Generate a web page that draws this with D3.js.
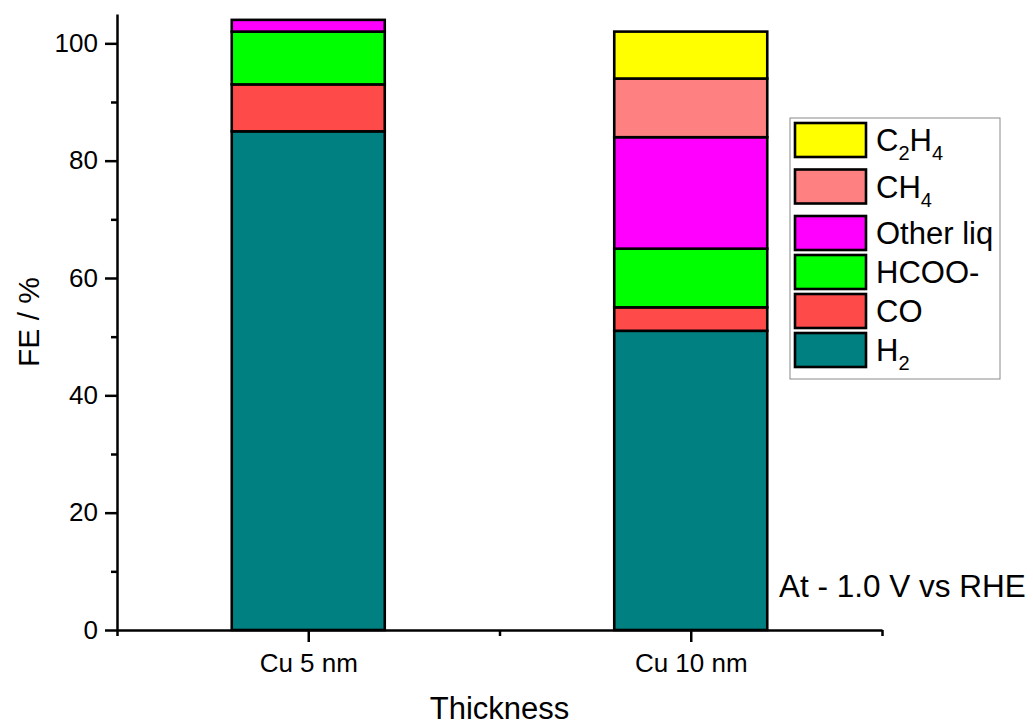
<!DOCTYPE html>
<html>
<head>
<meta charset="utf-8">
<script src="https://cdn.jsdelivr.net/npm/d3@7"></script>
<style>
  html, body { margin: 0; padding: 0; background: #ffffff; }
  svg { display: block; font-family: "Liberation Sans", Arial, sans-serif; }
</style>
</head>
<body>
<svg id="chart" width="1033" height="726"></svg>
<script>
// ---------------- data ----------------
const categories = ["Cu 5 nm", "Cu 10 nm"];
const seriesNames = ["H2", "CO", "HCOO-", "Other liq", "CH4", "C2H4"];
const H2 = [85, 51];
const CO = [8, 4];
const HCOO = [9, 10];
const OtherLiq = [2, 19];
const CH4 = [0, 10];
const C2H4 = [0, 8];
const seriesColors = ["#008080", "#FF4A4A", "#00FF00", "#FF00FF", "#FF8080", "#FFFF00"];
const yTicks = [0, 20, 40, 60, 80, 100];
const yMinorTicks = [10, 30, 50, 70, 90];
const note = "At - 1.0 V vs RHE";

// legend label parts: [text, isSubscript]
const legendLabels = {
  "C2H4": [["C", false], ["2", true], ["H", false], ["4", true]],
  "CH4": [["CH", false], ["4", true]],
  "Other liq": [["Other liq", false]],
  "HCOO-": [["HCOO-", false]],
  "CO": [["CO", false]],
  "H2": [["H", false], ["2", true]]
};

const seriesValues = [H2, CO, HCOO, OtherLiq, CH4, C2H4];
const table = categories.map((c, i) => {
  const row = { cat: c, pos: i + 1 };
  seriesNames.forEach((s, j) => row[s] = seriesValues[j][i]);
  return row;
});

// ---------------- layout ----------------
const svg = d3.select("#chart");
const x = d3.scaleLinear().domain([0.5, 2.5]).range([117, 882]);
const y = d3.scaleLinear().domain([0, 105]).range([630, 14]);
const barW = 0.4;
const color = d3.scaleOrdinal().domain(seriesNames).range(seriesColors);

const stack = d3.stack().keys(seriesNames);
const stacked = stack(table);

// bars
const g = svg.append("g");
stacked.forEach(layer => {
  g.selectAll(null)
    .data(layer.filter(d => d[1] - d[0] > 0))
    .enter().append("rect")
    .attr("x", d => x(d.data.pos - barW / 2))
    .attr("width", d => x(d.data.pos + barW / 2) - x(d.data.pos - barW / 2))
    .attr("y", d => y(d[1]))
    .attr("height", d => y(d[0]) - y(d[1]))
    .attr("fill", color(layer.key))
    .attr("stroke", "#000")
    .attr("stroke-width", 2.6);
});

// axes
const axisStyle = sel => {
  sel.selectAll("path.domain").attr("stroke", "#000").attr("stroke-width", 2.5);
  sel.selectAll(".tick line").attr("stroke", "#000").attr("stroke-width", 2.5);
};

// y axis minor
const yMinor = svg.append("g").attr("transform", `translate(${x(0.5)},0)`)
  .call(d3.axisLeft(y).tickValues(yMinorTicks).tickSize(6).tickFormat("").tickSizeOuter(0));
yMinor.select("path.domain").remove();
axisStyle(yMinor);

const yAxis = svg.append("g").attr("transform", `translate(${x(0.5)},0)`)
  .call(d3.axisLeft(y).tickValues(yTicks).tickSize(12).tickSizeOuter(0).tickPadding(7));
axisStyle(yAxis);
yAxis.selectAll(".tick text").attr("font-size", 26).attr("fill", "#000")
  .attr("font-family", "Liberation Sans, Arial, sans-serif");

// x axis minor (ends and middle)
const xMinor = svg.append("g").attr("transform", `translate(0,${y(0)})`)
  .call(d3.axisBottom(x).tickValues([0.5, 1.5, 2.5]).tickSize(6).tickFormat("").tickSizeOuter(0));
xMinor.select("path.domain").remove();
axisStyle(xMinor);

const xAxis = svg.append("g").attr("transform", `translate(0,${y(0)})`)
  .call(d3.axisBottom(x).tickValues(categories.map((c, i) => i + 1))
    .tickFormat((d, i) => categories[i]).tickSize(12).tickSizeOuter(0).tickPadding(12));
axisStyle(xAxis);
xAxis.selectAll(".tick text").attr("font-size", 26).attr("fill", "#000")
  .attr("font-family", "Liberation Sans, Arial, sans-serif");

// axis titles
svg.append("text")
  .attr("x", x(1.5)).attr("y", 719)
  .attr("text-anchor", "middle").attr("font-size", 31).attr("fill", "#000")
  .text("Thickness");
svg.append("text")
  .attr("transform", `translate(39,${(y(0) + y(105)) / 2}) rotate(-90)`)
  .attr("text-anchor", "middle").attr("font-size", 30).attr("fill", "#000")
  .text("FE / %");

// annotation
svg.append("text")
  .attr("x", 779).attr("y", 597)
  .attr("font-size", 31.5).attr("fill", "#000")
  .text(note);

// legend
const legendOrder = seriesNames.slice().reverse();
const lg = svg.append("g");
lg.append("rect")
  .attr("x", 790).attr("y", 118).attr("width", 210).attr("height", 261)
  .attr("fill", "#fff").attr("stroke", "#8a8a8a").attr("stroke-width", 1);
let rowTop = 123;
legendOrder.forEach(name => {
  const parts = legendLabels[name];
  lg.append("rect")
    .attr("x", 795).attr("y", rowTop).attr("width", 71).attr("height", 34)
    .attr("fill", color(name)).attr("stroke", "#000").attr("stroke-width", 2.6);
  const t = lg.append("text")
    .attr("x", 876).attr("y", rowTop + 28)
    .attr("font-size", 31).attr("fill", "#000");
  let prevSub = false;
  parts.forEach(([txt, sub]) => {
    const ts = t.append("tspan").text(txt);
    if (sub) { ts.attr("font-size", 20).attr("dy", prevSub ? 0 : 9); }
    else if (prevSub) { ts.attr("dy", -9); }
    prevSub = sub;
  });
  const hasSub = parts.some(p => p[1]);
  rowTop += hasSub ? 46.5 : 39;
});
</script>
</body>
</html>
